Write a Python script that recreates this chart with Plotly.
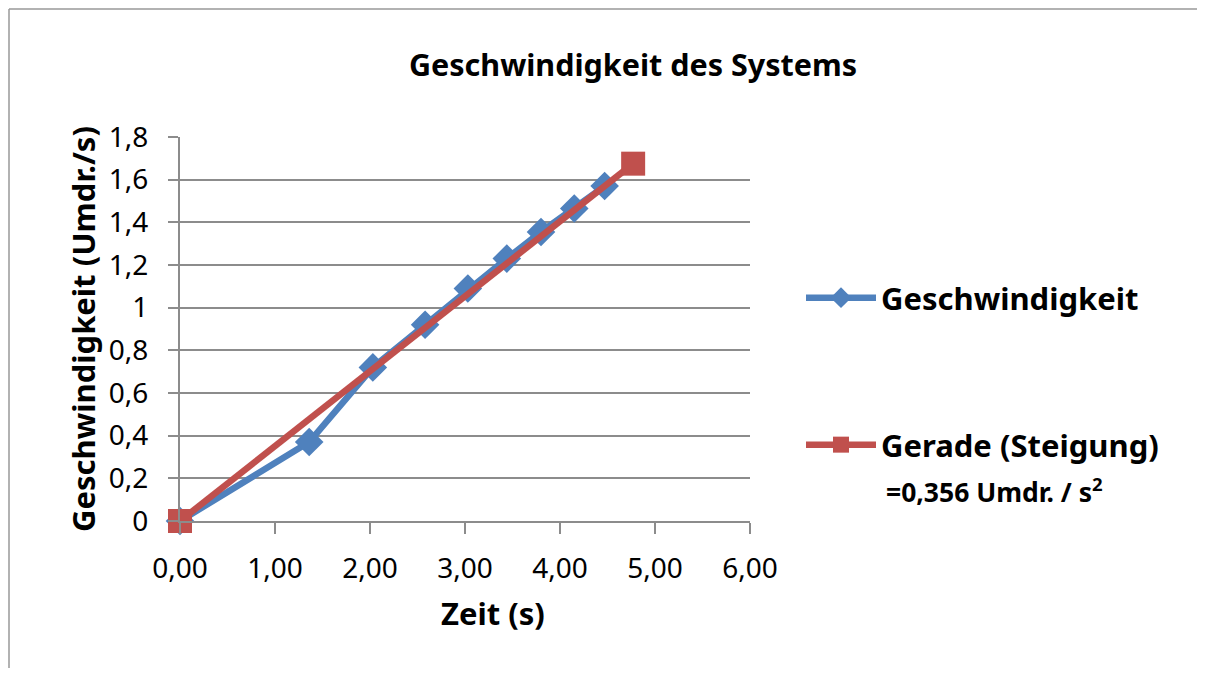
import plotly.graph_objects as go

# Data
zeit = [0.0, 1.36, 2.03, 2.58, 3.03, 3.44, 3.80, 4.15, 4.47]
geschw = [0.0, 0.37, 0.72, 0.92, 1.09, 1.23, 1.355, 1.465, 1.57]
gerade_x = [0.0, 4.77]
gerade_y = [0.0, 1.675]
y_tickvals = [0, 0.2, 0.4, 0.6, 0.8, 1.0, 1.2, 1.4, 1.6, 1.8]
y_ticktext = ["0", "0,2", "0,4", "0,6", "0,8", "1", "1,2", "1,4", "1,6", "1,8"]
x_tickvals = [0, 1, 2, 3, 4, 5, 6]

BLUE = "#4F81BD"
RED = "#C0504D"
GRID = "#8C8C8C"
FONT = "Noto Sans"

# page body margin offset (default 8px) -> work in reference screen pixels
OFF = 8
W, H = 1205 - OFF, 673 - OFF
# plot area in reference screen pixels
L, R, T, B = 180, 750, 137, 521


def px(xp):
    return (xp - L) / (R - L)


def py(yp):
    return (B - yp) / (B - T)


fig = go.Figure()
fig.add_trace(go.Scatter(
    x=zeit, y=geschw, name="<b>Geschwindigkeit</b>", mode="lines+markers",
    line=dict(color=BLUE, width=6.5),
    marker=dict(symbol="diamond", size=22, color=BLUE),
    cliponaxis=False, legend="legend",
))
fig.add_trace(go.Scatter(
    x=gerade_x, y=gerade_y, name="<b>Gerade (Steigung)</b>", mode="lines+markers",
    line=dict(color=RED, width=6.5),
    marker=dict(symbol="square", size=24, color=RED),
    cliponaxis=False, legend="legend2",
))

fig.update_layout(
    width=W, height=H,
    margin=dict(l=L - OFF, r=1205 - R, t=T - OFF, b=673 - B),
    paper_bgcolor="white", plot_bgcolor="white",
    separators=",.",
    font=dict(family=FONT, color="black"),
    title=dict(text="<b>Geschwindigkeit des Systems</b>", x=px(633), xref="paper",
               xanchor="center", y=1 - (65 - OFF) / H, yanchor="middle",
               font=dict(size=30.5, family=FONT)),
    xaxis=dict(range=[0, 6], tickvals=x_tickvals, tickformat=".2f",
               showgrid=False, zeroline=False,
               showline=True, linecolor=GRID, linewidth=2,
               ticks="outside", ticklen=11, tickwidth=2, tickcolor=GRID,
               ticklabelstandoff=10,
               tickfont=dict(size=28)),
    yaxis=dict(range=[0, 1.8], tickvals=y_tickvals, ticktext=y_ticktext,
               showgrid=True, gridcolor=GRID, gridwidth=2, zeroline=False,
               showline=True, linecolor=GRID, linewidth=2,
               ticks="outside", ticklen=10, tickwidth=2, tickcolor=GRID,
               ticklabelstandoff=14,
               tickfont=dict(size=28),
               title=dict(text="<b>Geschwindigkeit (Umdr./s)</b>", font=dict(size=31), standoff=4)),
    legend=dict(x=px(801), y=py(298), xanchor="left", yanchor="middle", itemwidth=70,
                font=dict(size=31), bgcolor="rgba(0,0,0,0)"),
    legend2=dict(x=px(801), y=py(445), xanchor="left", yanchor="middle", itemwidth=70,
                 font=dict(size=31), bgcolor="rgba(0,0,0,0)"),
    showlegend=True,
)

# x-axis title (offset to the right of plot centre, as in the original)
fig.add_annotation(text="<b>Zeit (s)</b>", xref="paper", yref="paper",
                   x=px(493), y=py(613), xanchor="center", yanchor="middle",
                   showarrow=False, font=dict(size=31))

fig.add_annotation(text="<b>=0,356 Umdr. / s<sup>2</sup></b>", xref="paper", yref="paper",
                   x=px(884), y=py(490), xanchor="left", yanchor="middle",
                   showarrow=False, font=dict(size=26.5))

# outer frame (left and top edges)
fig.add_shape(type="line", xref="paper", yref="paper",
              x0=px(9), x1=px(9), y0=py(9), y1=py(668),
              line=dict(color="#999999", width=1.5))
fig.add_shape(type="line", xref="paper", yref="paper",
              x0=px(9), x1=px(1205), y0=py(9), y1=py(9),
              line=dict(color="#999999", width=1.5))

fig.write_html("out.html")
